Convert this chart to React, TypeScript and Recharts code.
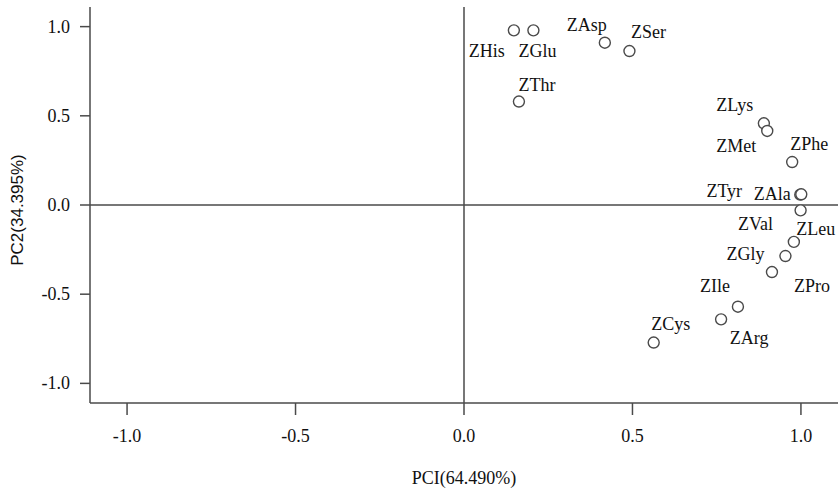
import React from 'react';
import { ScatterChart, Scatter, XAxis, YAxis, ReferenceLine, Label } from 'recharts';

// loadings of each amino acid on the first two principal components
const names = ['ZHis', 'ZGlu', 'ZAsp', 'ZSer', 'ZThr', 'ZLys', 'ZMet', 'ZPhe', 'ZTyr', 'ZAla', 'ZVal', 'ZLeu', 'ZGly', 'ZPro', 'ZIle', 'ZArg', 'ZCys'];
const pc1 = [0.148, 0.206, 0.418, 0.491, 0.163, 0.890, 0.900, 0.974, 0.998, 1.001, 0.999, 0.979, 0.954, 0.914, 0.813, 0.763, 0.563];
const pc2 = [0.979, 0.979, 0.910, 0.863, 0.580, 0.458, 0.415, 0.241, 0.058, 0.060, -0.030, -0.207, -0.286, -0.376, -0.570, -0.641, -0.771];
const ticks = [-1, -0.5, 0, 0.5, 1];

// where each label sits relative to its marker (px)
const labelShift: Record<string, [number, number]> = {
  ZHis: [-27, 21], ZGlu: [4, 21], ZAsp: [-18, -18], ZSer: [19, -19], ZThr: [18, -17],
  ZLys: [-29, -18], ZMet: [-31, 15], ZPhe: [17, -18], ZTyr: [-76, -4], ZAla: [-29, 0],
  ZVal: [-45, 14], ZLeu: [22, -13], ZGly: [-40, -2], ZPro: [40, 14], ZIle: [-23, -21],
  ZArg: [28, 19], ZCys: [17, -19],
};

const data = names.map((name, i) => ({ name, x: pc1[i], y: pc2[i] }));

const AXIS = '#4a4a4a';
const TEXT = '#111';
const SERIF = '"Liberation Serif", "Times New Roman", serif';

const Point = (props: any) => {
  const { cx, cy, payload } = props;
  const [dx, dy] = labelShift[payload.name] || [0, -15];
  return (
    <g>
      <circle cx={cx} cy={cy} r={5.5} fill="#fff" stroke={AXIS} strokeWidth={1.4} />
      <text
        x={cx + dx}
        y={cy + dy}
        textAnchor="middle"
        dominantBaseline="central"
        fontFamily={SERIF}
        fontSize={18}
        fill={TEXT}
      >
        {payload.name}
      </text>
    </g>
  );
};

const fmt = (v: number) => v.toFixed(1);

const XTick = ({ x, y, payload }: any) => (
  <text x={x} y={y} dy={13} textAnchor="middle" dominantBaseline="central" fontFamily={SERIF} fontSize={18} fill={TEXT}>
    {fmt(payload.value)}
  </text>
);

const YTick = ({ x, y, payload }: any) => (
  <text x={x} y={y} textAnchor="end" dominantBaseline="central" fontFamily={SERIF} fontSize={18} fill={TEXT}>
    {fmt(payload.value)}
  </text>
);

export default function App() {
  return (
    <div style={{ position: 'absolute', left: 0, top: 0, background: '#fff' }}>
      <ScatterChart width={838} height={493} margin={{ top: 7, right: 0, bottom: 0, left: 0 }}>
        <XAxis
          type="number"
          dataKey="x"
          domain={[-1.11, 1.11]}
          ticks={ticks}
          allowDataOverflow
          height={90}
          tickSize={12}
          tickMargin={8}
          stroke={AXIS}
          strokeWidth={1.5}
          tick={<XTick />}
        >
          <Label
            content={({ viewBox }: any) => (
              <text
                x={viewBox.x + viewBox.width / 2}
                y={viewBox.y + 75}
                textAnchor="middle"
                dominantBaseline="central"
                fontFamily={SERIF}
                fontSize={18}
                fill={TEXT}
              >
                PCI(64.490%)
              </text>
            )}
          />
        </XAxis>
        <YAxis
          type="number"
          dataKey="y"
          domain={[-1.11, 1.11]}
          ticks={ticks}
          allowDataOverflow
          width={90}
          tickSize={10}
          tickMargin={10}
          stroke={AXIS}
          strokeWidth={1.5}
          tick={<YTick />}
        >
          <Label
            content={({ viewBox }: any) => {
              const cx = 17;
              const cy = viewBox.y + viewBox.height / 2 + 5;
              return (
                <text
                  x={cx}
                  y={cy}
                  transform={`rotate(-90 ${cx} ${cy})`}
                  textAnchor="middle"
                  dominantBaseline="central"
                  fontFamily='"Liberation Sans", Arial, sans-serif'
                  fontSize={17}
                  fill={TEXT}
                >
                  PC2(34.395%)
                </text>
              );
            }}
          />
        </YAxis>
        <ReferenceLine x={0} stroke={AXIS} strokeWidth={1.5} />
        <ReferenceLine y={0} stroke={AXIS} strokeWidth={1.5} />
        <Scatter data={data} shape={Point} isAnimationActive={false} />
      </ScatterChart>
    </div>
  );
}
